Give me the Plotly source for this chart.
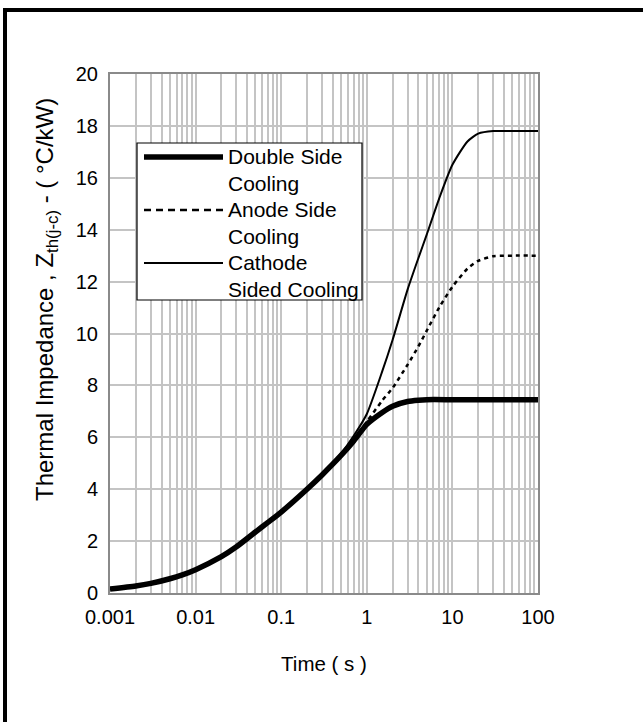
import plotly.graph_objects as go

# ---- data ----
t_double = [0.001, 0.002, 0.003, 0.005, 0.007, 0.01, 0.02, 0.03, 0.05, 0.07, 0.1, 0.2, 0.3, 0.5,
            0.7, 1, 1.5, 2, 3, 4, 5, 10, 20, 50, 100]
z_double = [0.15, 0.27, 0.37, 0.55, 0.7, 0.9, 1.4, 1.78, 2.35, 2.72, 3.12, 4.0, 4.55, 5.3,
            5.85, 6.5, 6.95, 7.2, 7.38, 7.43, 7.45, 7.45, 7.45, 7.45, 7.45]

t_anode = [0.001, 0.002, 0.003, 0.005, 0.007, 0.01, 0.02, 0.03, 0.05, 0.07, 0.1, 0.2, 0.3, 0.5,
           0.7, 1, 1.5, 2, 3, 4, 5, 7, 10, 15, 20, 30, 50, 100]
z_anode = [0.15, 0.27, 0.37, 0.55, 0.7, 0.9, 1.4, 1.78, 2.35, 2.72, 3.12, 4.0, 4.55, 5.3,
           5.9, 6.6, 7.4, 7.9, 8.8, 9.5, 10.1, 11.0, 11.8, 12.5, 12.8, 12.98, 13.0, 13.0]

t_cathode = [0.001, 0.002, 0.003, 0.005, 0.007, 0.01, 0.02, 0.03, 0.05, 0.07, 0.1, 0.2, 0.3, 0.5,
             0.7, 1, 1.5, 2, 3, 4, 5, 7, 10, 15, 20, 30, 50, 100]
z_cathode = [0.15, 0.27, 0.37, 0.55, 0.7, 0.9, 1.4, 1.78, 2.35, 2.72, 3.12, 4.0, 4.57, 5.38,
             6.05, 6.9, 8.5, 9.75, 11.7, 12.9, 13.8, 15.2, 16.5, 17.4, 17.7, 17.8, 17.8, 17.8]

series_names = ["Double Side<br>Cooling", "Anode Side<br>Cooling", "Cathode<br>Sided Cooling"]
x_ticks = [0.001, 0.01, 0.1, 1, 10, 100]
x_tick_labels = ["0.001", "0.01", "0.1", "1", "10", "100"]
y_ticks = [0, 2, 4, 6, 8, 10, 12, 14, 16, 18, 20]

# ---- layout geometry ----
W, H = 643, 722
L, R, T, B = 110, 105, 74, 129
PW, PH = W - L - R, H - T - B

def px(x):
    return (x - L) / PW

def py(y):
    return (H - B - y) / PH

FONT = "Liberation Sans, Arial, sans-serif"
styles = [
    dict(color="black", width=5.5),
    dict(color="black", width=2.5, dash="4px,4px"),
    dict(color="black", width=2),
]

fig = go.Figure()
for t, z, name, st in [(t_double, z_double, series_names[0], styles[0]),
                       (t_anode, z_anode, series_names[1], styles[1]),
                       (t_cathode, z_cathode, series_names[2], styles[2])]:
    fig.add_trace(go.Scatter(x=t, y=z, mode="lines", name=name,
                             line=dict(shape="spline", smoothing=0.6, **st),
                             showlegend=False))

grid_c = "#c4c4c4"
fig.update_xaxes(type="log", range=[-3, 2], tickvals=x_ticks, ticktext=x_tick_labels,
                 showgrid=True, gridcolor=grid_c, gridwidth=2,
                 minor=dict(dtick="D1", showgrid=True, gridcolor=grid_c, gridwidth=2, ticks=""),
                 showline=True, linecolor="#8a8a8a", linewidth=2, mirror=True,
                 ticks="", zeroline=False, ticklabelstandoff=5,
                 tickfont=dict(size=20, color="black", family=FONT),
                 title=dict(text="Time ( s )", font=dict(size=20.5, color="black", family=FONT),
                            standoff=30))
fig.update_yaxes(range=[0, 20], tickvals=y_ticks,
                 showgrid=True, gridcolor=grid_c, gridwidth=2,
                 showline=True, linecolor="#8a8a8a", linewidth=2, mirror=True,
                 ticks="", zeroline=False, ticklabelstandoff=6,
                 tickfont=dict(size=20, color="black", family=FONT))

shapes = []
annotations = []
# outer frame (top and left edges visible)
shapes.append(dict(type="line", xref="paper", yref="paper", x0=px(5), x1=px(W + 20),
                   y0=py(10), y1=py(10), line=dict(color="black", width=4), layer="above"))
shapes.append(dict(type="line", xref="paper", yref="paper", x0=px(5), x1=px(5),
                   y0=py(8), y1=py(H + 20), line=dict(color="black", width=4), layer="above"))

# legend box
shapes.append(dict(type="rect", xref="paper", yref="paper", x0=px(137), x1=px(362),
                   y0=py(300), y1=py(143), fillcolor="white",
                   line=dict(color="black", width=1.2), layer="above"))
row_y = [157, 210, 263]
for i, st in enumerate(styles):
    shapes.append(dict(type="line", xref="paper", yref="paper", x0=px(144), x1=px(223),
                       y0=py(row_y[i]), y1=py(row_y[i]),
                       line=dict(color="black", width=st["width"],
                                 dash="7px,5px" if "dash" in st else "solid"),
                       layer="above"))
    annotations.append(dict(xref="paper", yref="paper", x=px(226), y=py(row_y[i] - 14),
                            xanchor="left", yanchor="top", align="left", showarrow=False,
                            text=series_names[i],
                            font=dict(size=21, color="black", family=FONT)))

# y-axis title
annotations.append(dict(xref="paper", yref="paper", x=px(46), y=py(300),
                        xanchor="center", yanchor="middle", textangle=-90, showarrow=False,
                        text="Thermal Impedance , Z<sub>th(j-c)</sub> - ( °C/kW)",
                        font=dict(size=24, color="black", family=FONT)))

fig.update_layout(width=W, height=H, margin=dict(l=L, r=R, t=T, b=B, autoexpand=False),
                  paper_bgcolor="white", plot_bgcolor="white",
                  shapes=shapes, annotations=annotations,
                  font=dict(family=FONT, color="black"))

fig.write_html("out.html", config={"displayModeBar": False},
               post_script="document.body.style.margin='0';")
